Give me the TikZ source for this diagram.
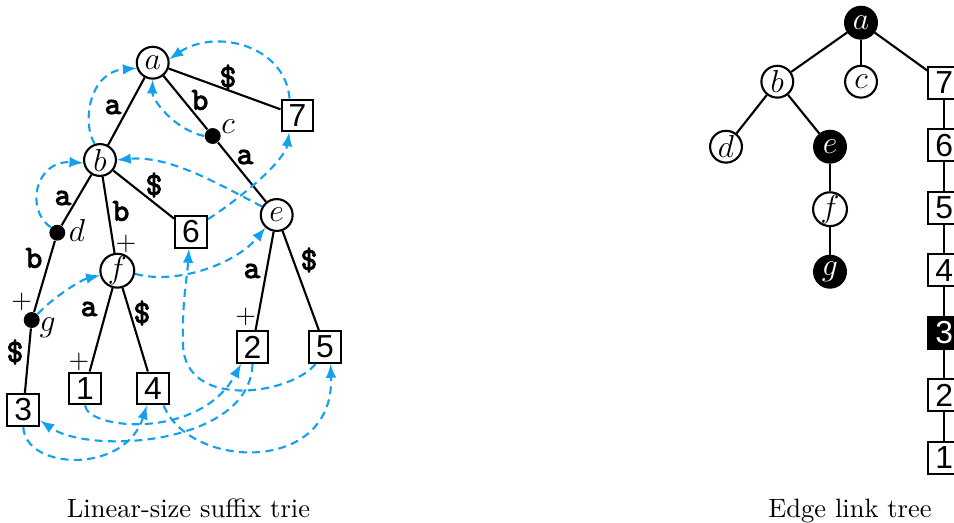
\documentclass[tikz,border=0pt]{standalone}
\usepackage{fontspec}
\newfontfamily\numfont{Liberation Sans}
\newfontfamily\lblfont{lmmono10-regular.otf}[FakeBold=3]
\usetikzlibrary{arrows}
\definecolor{linkblue}{RGB}{20,160,240}
\tikzstyle{inner} = [circle, draw=black, thick, fill=white, minimum size=12pt, inner sep=0pt, font=\large]
\tikzstyle{innerblk} = [inner, fill=black, text=white]
\tikzstyle{implicit} = [circle, fill=black, minimum size=6pt, inner sep=0pt]
\tikzstyle{leaf} = [rectangle, draw=black, thick, fill=white, minimum size=12pt, inner sep=0pt, font=\numfont\large]
\tikzstyle{leafblk} = [leaf, fill=black, text=white]
\tikzstyle{lbl} = [font=\lblfont\large, inner sep=0pt]
\tikzstyle{tedge} = [thick]
\tikzstyle{slink} = [->, >=latex, linkblue, line width=0.8pt, dash pattern=on 3pt off 2pt]

\begin{document}
\begin{tikzpicture}[x=0.377pt, y=-0.377pt, node distance=23.56pt]
	\useasboundingbox (0,0) rectangle (954,522);
	% suffix trie
	\node (a) [inner] at (152.7,62.7) {$a$};
	\node (b) [inner] at (100,160) {$b$};
	\node (c) [implicit] at (212.7,136) {};
	\node (d) [implicit] at (57.3,232.7) {};
	\node (e) [inner] at (276.7,215) {$e$};
	\node (f) [inner] at (117.3,270.7) {$f$};
	\node (g) [implicit] at (31.7,320) {};
	\node (l1) [leaf] at (85,388.5) {1};
	\node (l2) [leaf] at (252.5,347) {2};
	\node (l3) [leaf] at (23.3,410) {3};
	\node (l4) [leaf] at (153,388.5) {4};
	\node (l5) [leaf] at (325,347) {5};
	\node (l6) [leaf] at (191,232) {6};
	\node (l7) [leaf] at (297.5,115.5) {7};
	\node (cname) at (228,127) {\large$c$};
	\node (dname) at (77,230) {\large$d$};
	\node (gname) at (47.7,328) {\large$g$};
	\node (pf) at (126,244) {$+$};
	\node (pg) at (21.7,301.7) {$+$};
	\node (p1) at (79,361.7) {$+$};
	\node (p2) at (245.7,316.7) {$+$};
	%lines
	\draw [tedge] (a) -- (b);
	\draw [tedge] (a) -- (c);
	\draw [tedge] (c) -- (e);
	\draw [tedge] (a) -- (l7);
	\draw [tedge] (b) -- (d);
	\draw [tedge] (d) -- (g);
	\draw [tedge] (g) -- (l3);
	\draw [tedge] (b) -- (f);
	\draw [tedge] (b) -- (l6);
	\draw [tedge] (f) -- (l1);
	\draw [tedge] (f) -- (l4);
	\draw [tedge] (e) -- (l2);
	\draw [tedge] (e) -- (l5);
	%edge labels
	\node (tab) [lbl] at (113,107) {a};
	\node (ta7) [lbl] at (228,77) {\$};
	\node (tac) [lbl] at (200,100) {b};
	\node (tce) [lbl] at (245,157) {a};
	\node (tbd) [lbl] at (63,198) {a};
	\node (tbf) [lbl] at (121,211) {b};
	\node (tb6) [lbl] at (154,185) {\$};
	\node (tdg) [lbl] at (34,258) {b};
	\node (tg3) [lbl] at (15,352) {\$};
	\node (tf1) [lbl] at (89,309) {a};
	\node (tf4) [lbl] at (142,313) {\$};
	\node (te2) [lbl] at (252,271) {a};
	\node (te5) [lbl] at (309,260) {\$};
	%suffix links
	\draw [slink] (l7.115) .. controls (285,45) and (215,28) .. (a.12);
	\draw [slink] (b.108) .. controls (82,125) and (88,72) .. (a.199);
	\draw [slink] (c.west) .. controls (175,130) and (152,100) .. (a.south);
	\draw [slink] (d.140) .. controls (25,210) and (35,160) .. (b.190);
	\draw [slink] (e.150) .. controls (220,185) and (170,155) .. (b.east);
	\draw [slink] (l6.37) .. controls (245,195) and (285,160) .. (l7.244);
	\draw [slink] (g.45) .. controls (50,300) and (80,280) .. (f.195);
	\draw [slink] (f.350) .. controls (175,285) and (235,265) .. (e.228);
	\draw [slink] (l5.241) .. controls (290,395) and (185,410) .. (183,345) .. controls (182,300) and (187,280) .. (l6.263);
	\draw [slink] (l1.south) .. controls (88,430) and (200,440) .. (l2.236);
	\draw [slink] (l2.south) .. controls (250,445) and (90,455) .. (l3.328);
	\draw [slink] (l3.south) .. controls (25,470) and (125,475) .. (l4.250);
	\draw [slink] (l4.302) .. controls (190,470) and (335,475) .. (l5.288);
	% edge link tree
	\node (ea) [innerblk] at (861,22.7) {$a$};
	\node (eb) [inner] at (777.3,81.7) {$b$};
	\node (ec) [inner] at (861,81.7) {$c$};
	\node (ed) [inner] at (726,146.7) {$d$};
	\node (ee) [innerblk] at (830,146.7) {$e$};
	\node (ef) [inner, below of=ee] {$f$};
	\node (eg) [innerblk, below of=ef] {$g$};
	\node (e7) [leaf] at (944.3,82.8) {7};
	\node (e6) [leaf, below of=e7] {6};
	\node (e5) [leaf, below of=e6] {5};
	\node (e4) [leaf, below of=e5] {4};
	\node (e3) [leafblk, below of=e4] {3};
	\node (e2) [leaf, below of=e3] {2};
	\node (e1) [leaf, below of=e2] {1};
	\draw [tedge] (ea) -- (eb);
	\draw [tedge] (ea) -- (ec);
	\draw [tedge] (ea) -- (e7);
	\draw [tedge] (eb) -- (ed);
	\draw [tedge] (eb) -- (ee);
	\draw [tedge] (ee) -- (ef);
	\draw [tedge] (ef) -- (eg);
	\draw [tedge] (e7) -- (e6);
	\draw [tedge] (e6) -- (e5);
	\draw [tedge] (e5) -- (e4);
	\draw [tedge] (e4) -- (e3);
	\draw [tedge] (e3) -- (e2);
	\draw [tedge] (e2) -- (e1);
	% captions
	\node (cap1) [anchor=base] at (188.5,517) {Linear-size suffix trie};
	\node (cap2) [anchor=base] at (850,517) {Edge link tree};
\end{tikzpicture}
\end{document}
